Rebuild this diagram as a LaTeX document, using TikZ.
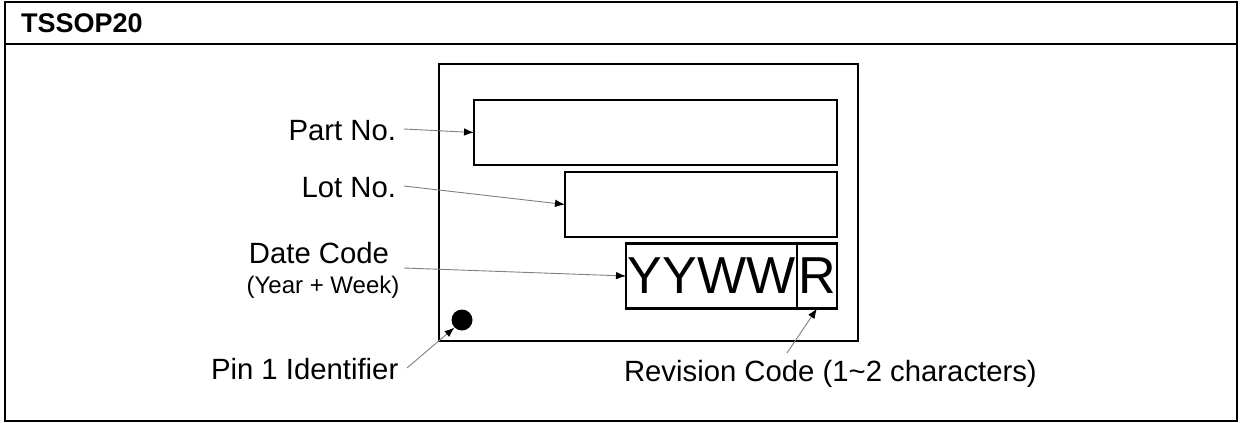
\documentclass[tikz,border=0pt]{standalone}
\usepackage{fontspec}
\setmainfont{Liberation Sans}
\usetikzlibrary{arrows.meta}
\begin{document}
\begin{tikzpicture}[x=1pt,y=-1pt,
  frame/.style={draw=black,line width=2.8pt},
  box/.style={draw=black,line width=2.5pt,rectangle,inner sep=0pt,outer sep=0pt},
  lbl/.style={inner sep=0pt,outer sep=0pt,font=\fontsize{29.3}{34}\selectfont},
  sublbl/.style={inner sep=0pt,outer sep=0pt,font=\fontsize{24}{28}\selectfont},
  big/.style={font=\fontsize{52}{60}\selectfont},
  pointer/.style={draw=black!50,line width=0.9pt,-{Latex[length=10pt,width=7.5pt,color=black]}}
]
\useasboundingbox (0,0) rectangle (1243,423);
% outer frame and header
\draw[frame] (5,2) rectangle (1237,421);
\draw[frame] (5,44) -- (1237,44);
\node[anchor=base west,inner sep=0pt,font=\bfseries\fontsize{27}{32}\selectfont] (title) at (21,32) {TSSOP20};
% chip
\node[box,line width=2.8pt,minimum width=419pt,minimum height=277pt] (chip) at (648.5,202.5) {};
\node[box,minimum width=363pt,minimum height=65pt] (partbox) at (655.5,132.5) {};
\node[box,minimum width=272pt,minimum height=65pt] (lotbox) at (701,204.5) {};
\node[box,big,minimum width=171pt,minimum height=65pt] (datebox) at (711.5,276) {YYWW};
\node[box,big,minimum width=40pt,minimum height=65pt] (revbox) at (817,276) {R};
\node[circle,fill=black,inner sep=0pt,minimum size=21pt] (dot) at (462,320) {};
% labels
\node[lbl,anchor=base east] (partlbl) at (396,140) {Part No.};
\node[lbl,anchor=base east] (lotlbl) at (396,197) {Lot No.};
\node[lbl,anchor=base] (datelbl) at (319,263) {Date Code};
\node[sublbl,anchor=base] (datesub) at (323,293) {(Year + Week)};
\node[lbl,anchor=base west] (pinlbl) at (211,379) {Pin 1 Identifier};
\node[lbl,anchor=base west] (revlbl) at (624,381) {Revision Code (1\textasciitilde 2 characters)};
% connector start points
\coordinate (ps) at (404,129);
\coordinate (ls) at (404,186);
\coordinate (ds) at (404,268);
\coordinate (pns) at (407,368);
\coordinate (rs) at (787,353);
% connectors
\draw[pointer] (ps) -- (partbox.west);
\draw[pointer] (ls) -- (lotbox.west);
\draw[pointer] (ds) -- (datebox.west);
\draw[pointer] (pns) -- (dot.south west);
\draw[pointer] (rs) -- (revbox.south);
\end{tikzpicture}
\end{document}
